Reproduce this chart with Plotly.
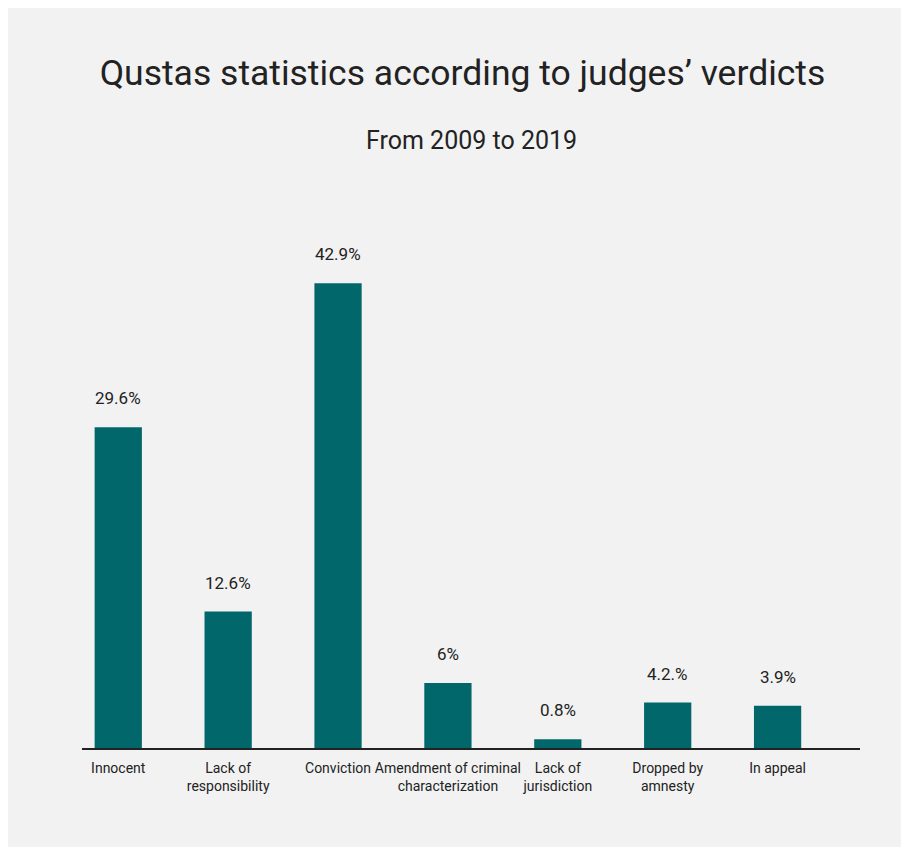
import plotly.graph_objects as go

categories = ["Innocent", "Lack of<br>responsibility", "Conviction",
              "Amendment of criminal<br>characterization", "Lack of<br>jurisdiction",
              "Dropped by<br>amnesty", "In appeal"]
values = [29.6, 12.6, 42.9, 6, 0.8, 4.2, 3.9]
value_labels = ["29.6%", "12.6%", "42.9%", "6%", "0.8%", "4.2.%", "3.9%"]

FONT = "Roboto, Arial"
TEXT = "#222222"
BAR = "#02676a"
BG = "#f2f2f2"

fig = go.Figure()
fig.add_trace(go.Bar(x=categories, y=values, marker=dict(color=BAR, line=dict(width=0)),
                     width=0.43, hoverinfo="skip"))

for c, v, t in zip(categories, values, value_labels):
    fig.add_annotation(x=c, y=v, text=t, showarrow=False, yanchor="bottom", yshift=17,
                       font=dict(family=FONT, size=17, color=TEXT))

fig.add_annotation(xref="paper", yref="paper", x=0.5, y=1.169, text="From 2009 to 2019",
                   showarrow=False, xanchor="center", yanchor="middle",
                   font=dict(family=FONT, size=25, color=TEXT))

fig.update_layout(
    width=909, height=847,
    paper_bgcolor=BG, plot_bgcolor=BG,
    margin=dict(l=74, r=57, t=220, b=107),
    title=dict(text="Qustas statistics according to judges’ verdicts", x=0.5, xanchor="center",
               y=1 - 65 / 847, yanchor="middle", yref="container",
               font=dict(family=FONT, size=35.5, color=TEXT)),
    showlegend=False,
)
fig.update_xaxes(range=[-0.33, 6.75], showline=True, linecolor=TEXT, linewidth=1.5,
                 ticks="", showgrid=False, ticklabelstandoff=6, tickangle=0, automargin=False,
                 tickfont=dict(family=FONT, size=14, color=TEXT),
                 fixedrange=True)
fig.update_yaxes(range=[0, 48], visible=False, showgrid=False, fixedrange=True)

fig.write_html("out.html")
